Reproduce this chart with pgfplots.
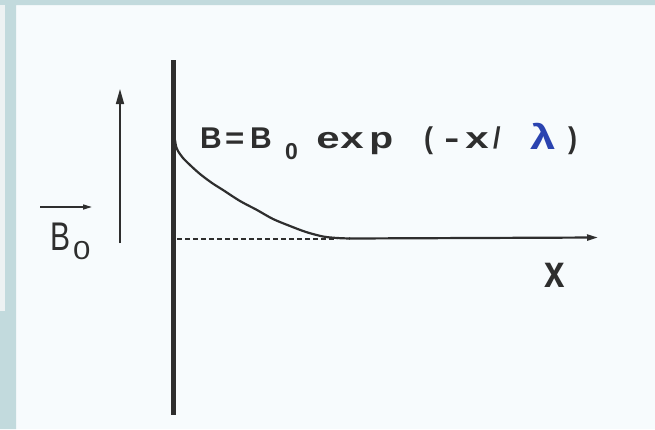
\documentclass[border=0pt]{standalone}
\usepackage{pgfplots}
\pgfplotsset{compat=1.18}
\usepackage{fontspec}
\setmainfont{Liberation Sans}
\usetikzlibrary{arrows.meta}

\definecolor{paper}{HTML}{F7FBFD}
\definecolor{frame}{HTML}{C2DADD}
\definecolor{panel}{HTML}{EDF2F3}
\definecolor{ink}{HTML}{2E2E2E}
\definecolor{lam}{HTML}{2A43B0}

% one glyph: x, baseline y, size, horizontal stretch, text
\newcommand{\glyph}[5]{\node[anchor=base west, inner sep=0pt, text=ink, xscale=#4,
  font=\fontsize{#3}{#3}\selectfont] at (axis cs:#1,#2) {#5};}
\newcommand{\bglyph}[5]{\node[anchor=base west, inner sep=0pt, text=ink, xscale=#4,
  font=\fontsize{#3}{#3}\selectfont\bfseries] at (axis cs:#1,#2) {#5};}

\begin{document}
\begin{tikzpicture}
\begin{axis}[
  width=655pt, height=429pt, scale only axis,
  xmin=0, xmax=655, ymin=0, ymax=429, y dir=reverse,
  hide axis, clip=false,
]
% page background and frame
\addplot[draw=none, fill=paper] coordinates {(0,0)(655,0)(655,429)(0,429)} -- cycle;
\addplot[draw=none, fill=frame] coordinates {(0,0)(655,0)(655,5)(16,5)(16,429)(0,429)} -- cycle;
\addplot[draw=none, fill=panel] coordinates {(0,5)(5,5)(5,311)(0,311)} -- cycle;

% superconductor surface
\addplot[ink, line width=5pt] coordinates {(173.5,60)(173.5,415)};

% applied field direction
\addplot[ink, line width=1.5pt, -{Triangle[length=15pt,width=8pt]}] coordinates {(120,243)(120,89)};
\addplot[ink, line width=1.5pt, -{Triangle[length=9pt,width=5pt]}] coordinates {(40,207)(92,207)};

% level of B = 0
\addplot[ink, line width=1.3pt, dash pattern=on 5pt off 3pt] coordinates {(177,239)(337,239)};

% decaying field inside
\addplot[ink, line width=2.2pt, smooth] coordinates {
  (175,140)(176,146)(178,151)(183,158)(190,165)(200,174)(212,183)(223,190)
  (240,201)(257,210)(273,219)(290,226)(306,232)(323,236.5)(337,238)(350,238.5)};
\addplot[ink, line width=2.2pt, -{Triangle[length=11pt,width=6pt]}] coordinates {(349,238.5)(598,237.5)};

% formula B = B0 exp(-x/lambda)
\bglyph{200}{148}{30}{1.0}{B}
\bglyph{225}{148}{30}{1.1}{=}
\bglyph{250}{148}{30}{1.0}{B}
\bglyph{285}{159}{23}{1.0}{0}
\bglyph{316}{148}{30}{1.4}{e}
\bglyph{340}{148}{30}{1.4}{x}
\bglyph{369}{148}{30}{1.3}{p}
\bglyph{424}{148}{30}{0.9}{(}
\bglyph{444}{148}{30}{1.5}{-}
\bglyph{465}{148}{30}{1.4}{x}
\bglyph{493}{148}{30}{0.9}{/}
\node[anchor=base west, inner sep=0pt, text=lam, xscale=1.3,
  font=\fontsize{35}{35}\selectfont\bfseries] at (axis cs:530,149) {λ};
\bglyph{568}{148}{30}{0.9}{)}

% applied field label and x axis label
\glyph{50}{250}{40}{0.75}{B}
\glyph{73}{259}{26}{1.2}{0}
\bglyph{544}{287}{46}{0.8}{x}
\end{axis}
\end{tikzpicture}
\end{document}
